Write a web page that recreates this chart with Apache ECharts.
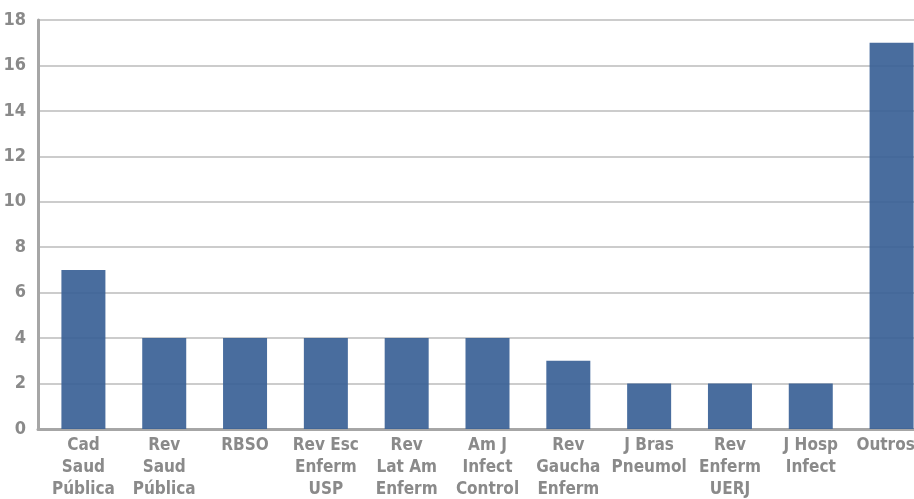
<!DOCTYPE html>
<html>
<head>
<meta charset="utf-8">
<script src="https://cdn.jsdelivr.net/npm/echarts@6/dist/echarts.min.js"></script>
<style>
html,body{margin:0;padding:0;background:#fff;overflow:hidden;width:914px;height:499px;}
#chart{width:935px;height:499px;}
</style>
</head>
<body>
<div id="chart"></div>
<script>
var categories = ["Cad\nSaud\nPública","Rev\nSaud\nPública","RBSO","Rev Esc\nEnferm\nUSP","Rev\nLat Am\nEnferm","Am J\nInfect\nControl","Rev\nGaucha\nEnferm","J Bras\nPneumol","Rev\nEnferm\nUERJ","J Hosp\nInfect","Outros"];
var values = [7,4,4,4,4,4,3,2,2,2,17];
var yTicks = {min:0, max:18, interval:2};

var FONT = '"Liberation Sans Narrow","DejaVu Sans Condensed",sans-serif';
var labelData = categories.map(function(c, i){
  return i === categories.length - 1 ? {value:c, textStyle:{padding:[0,12,0,0]}} : c;
});
var chart = echarts.init(document.getElementById('chart'));
chart.setOption({
  animation:false,
  grid:[
    {left:38, right:3, top:20, bottom:70, containLabel:false, outerBoundsMode:'none'},
    {left:43, right:3, top:20, bottom:70, containLabel:false, outerBoundsMode:'none'}
  ],
  xAxis:[{
    gridIndex:0,
    type:'category',
    data:categories,
    axisLine:{show:true, lineStyle:{color:'#a6a6a6', width:3}},
    axisTick:{show:false},
    axisLabel:{show:false}
  },{
    gridIndex:1,
    type:'category',
    data:labelData,
    axisLine:{show:false},
    axisTick:{show:false},
    axisLabel:{interval:0, color:'#8a8a8a', fontFamily:FONT, fontWeight:'bold', fontSize:17, lineHeight:22, margin:6}
  }],
  yAxis:[{
    gridIndex:0,
    type:'value',
    min:yTicks.min, max:yTicks.max, interval:yTicks.interval,
    axisLine:{show:true, lineStyle:{color:'#a6a6a6', width:3}},
    axisTick:{show:false},
    splitLine:{lineStyle:{color:'#cccccc', width:2}},
    axisLabel:{color:'#8a8a8a', fontFamily:FONT, fontWeight:'bold', fontSize:18, margin:12}
  },{
    gridIndex:1,
    type:'value',
    min:yTicks.min, max:yTicks.max, interval:yTicks.interval,
    axisLine:{show:false}, axisTick:{show:false}, axisLabel:{show:false}, splitLine:{show:false}
  }],
  series:[{
    type:'bar',
    xAxisIndex:1, yAxisIndex:1,
    data:values,
    barWidth:44,
    itemStyle:{color:'#3a6196', opacity:0.92}
  }]
});
</script>
</body>
</html>
